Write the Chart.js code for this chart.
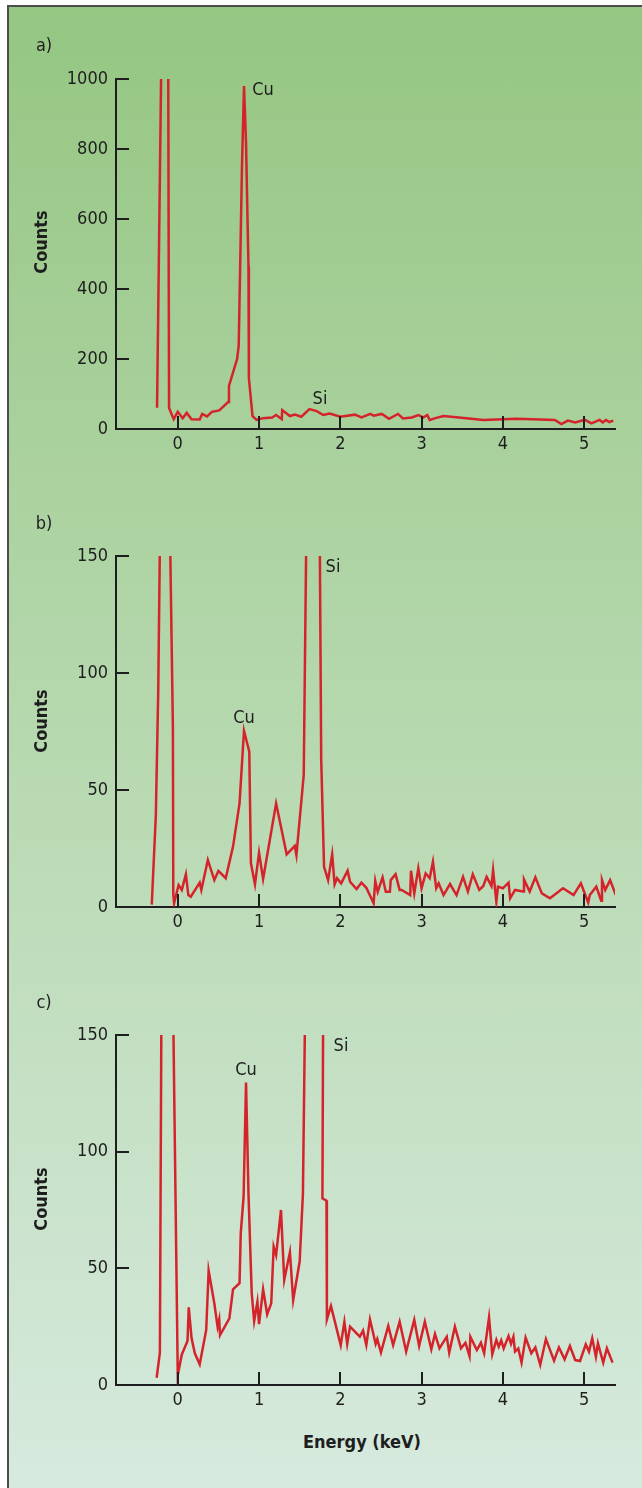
<!DOCTYPE html>
<html>
<head>
<meta charset="utf-8">
<script src="https://cdn.jsdelivr.net/npm/chart.js@4.4.0/dist/chart.umd.min.js"></script>
<style>
  body { margin: 0; width: 642px; height: 1488px; background: #fff; position: relative; overflow: hidden;
         font-family: 'Liberation Sans Narrow', 'DejaVu Sans Condensed', sans-serif; color: #1e1e1e; }
  #frame { position: absolute; left: 7px; top: 5px; width: 660px; height: 1500px;
           border-left: 2px solid #4d4d4d; border-top: 2px solid #4d4d4d;
           background: linear-gradient(to bottom, #95c682 0%, #b6d8ae 48%, #d7eadf 100%); }
  canvas { position: absolute; left: 0; }
  .txt { position: absolute; font-size: 18px; line-height: 18px; white-space: nowrap; transform: translate(-50%, -50%); }
  .bold { font-weight: bold; }
  .rot { transform: translate(-50%, -50%) rotate(-90deg); }
</style>
</head>
<body>
<div id="frame"></div>
<canvas id="chartA" width="642" height="470" style="top:0px"></canvas>
<canvas id="chartB" width="642" height="480" style="top:470px"></canvas>
<canvas id="chartC" width="642" height="480" style="top:950px"></canvas>

<div class="txt" style="left:44px;top:45px">a)</div>
<div class="txt" style="left:44px;top:523px">b)</div>
<div class="txt" style="left:44px;top:1002px">c)</div>

<div class="txt bold rot" style="left:41px;top:242px">Counts</div>
<div class="txt bold rot" style="left:41px;top:721px">Counts</div>
<div class="txt bold rot" style="left:41px;top:1199px">Counts</div>

<div class="txt" style="left:263px;top:89px">Cu</div>
<div class="txt" style="left:320px;top:398px">Si</div>
<div class="txt" style="left:244px;top:717px">Cu</div>
<div class="txt" style="left:333px;top:566px">Si</div>
<div class="txt" style="left:246px;top:1069px">Cu</div>
<div class="txt" style="left:341px;top:1045px">Si</div>

<div class="txt bold" style="left:362px;top:1442px">Energy (keV)</div>

<script>
// shared x axis
const xTicks = [0, 1, 2, 3, 4, 5];
const xMin = -0.76;
const xMax = 5.38;

// panel a)
const yTicksA = [0, 200, 400, 600, 800, 1000];
const energyA = [-0.255, -0.2, -0.118, -0.107, -0.05, 0.0, 0.06, 0.11, 0.17, 0.27, 0.30, 0.36, 0.42, 0.51,
  0.62, 0.63, 0.73, 0.75, 0.79, 0.815, 0.84, 0.87, 0.875, 0.92, 0.97, 1.05, 1.16, 1.21, 1.28, 1.285, 1.38,
  1.44, 1.52, 1.62, 1.71, 1.79, 1.87, 2.0, 2.18, 2.26, 2.37, 2.41, 2.51, 2.60, 2.71, 2.77, 2.88, 2.96, 3.02,
  3.07, 3.10, 3.17, 3.27, 3.55, 3.76, 4.17, 4.64, 4.72, 4.80, 4.89, 5.01, 5.09, 5.19, 5.23, 5.27, 5.31, 5.36];
const countsA = [61, 1100, 1100, 60, 28, 49, 31, 46, 28, 27, 43, 36, 49, 53,
  77, 123, 200, 238, 749, 980, 816, 464, 145, 37, 26, 31, 33, 40, 28, 54, 37,
  41, 35, 57, 51, 40, 44, 35, 41, 33, 43, 38, 43, 29, 43, 30, 33, 40, 33,
  40, 26, 31, 37, 31, 26, 29, 26, 14, 24, 19, 26, 16, 26, 19, 26, 20, 24];

// panel b)
const yTicksB = [0, 50, 100, 150];
const energyB = [-0.32, -0.27, -0.24, -0.215, -0.10, -0.06, -0.055, -0.045, 0.01, 0.05, 0.10, 0.13, 0.16,
  0.27, 0.29, 0.37, 0.45, 0.50, 0.59, 0.68, 0.76, 0.815, 0.88, 0.90, 0.95, 1.00, 1.05, 1.21, 1.34, 1.44,
  1.46, 1.55, 1.585, 1.745, 1.765, 1.80, 1.85, 1.90, 1.93, 1.96, 2.01, 2.09, 2.12, 2.20, 2.26, 2.32, 2.41,
  2.43, 2.46, 2.52, 2.56, 2.61, 2.62, 2.68, 2.73, 2.755, 2.86, 2.87, 2.91, 2.96, 3.00, 3.05, 3.10, 3.14,
  3.18, 3.21, 3.27, 3.35, 3.43, 3.51, 3.57, 3.63, 3.71, 3.76, 3.80, 3.86, 3.88, 3.92, 3.94, 4.00, 4.07,
  4.09, 4.15, 4.25, 4.26, 4.33, 4.40, 4.48, 4.58, 4.74, 4.87, 4.96, 5.05, 5.07, 5.15, 5.21, 5.22, 5.26,
  5.32, 5.39];
const countsB = [1, 39, 93, 170, 170, 77, 5.4, 1.6, 9.4, 7.3, 14, 5.1, 4.4,
  10.4, 7.3, 20.1, 11.5, 15.4, 12.3, 25.8, 44.3, 75.3, 66.4, 18.7, 9.7, 23.2, 12, 44.3, 22.5, 26.1,
  22.2, 56.4, 170, 170, 63, 17.2, 11.5, 22.5, 9.7, 12.3, 10.1, 15.5, 10.8, 7.7, 10.4, 8.2, 1.6,
  11.2, 6.5, 12.7, 6.5, 6.5, 11.5, 14, 7.3, 7.3, 5.1, 15.5, 5.8, 16.5, 8, 14.4, 12.3, 19.4,
  8, 10.1, 5.1, 9.8, 5.1, 12.9, 6.6, 14, 7.3, 9, 12.9, 9, 15.8, 2.3, 8.7, 8, 10.4,
  3.7, 7.3, 6.6, 11.8, 6.6, 12.7, 5.8, 3.7, 8, 5.1, 10.1, 1.9, 5.1, 8.7, 2.7, 11.5, 7.3,
  11.5, 5.1];

// panel c)
const yTicksC = [0, 50, 100, 150];
const energyC = [-0.26, -0.22, -0.2, -0.06, 0.0, 0.05, 0.12, 0.135, 0.17, 0.21, 0.27, 0.35, 0.38, 0.45,
  0.49, 0.51, 0.52, 0.635, 0.68, 0.76, 0.775, 0.81, 0.84, 0.87, 0.91, 0.94, 0.98, 1.00, 1.05, 1.10, 1.15,
  1.18, 1.21, 1.27, 1.31, 1.38, 1.42, 1.50, 1.54, 1.57, 1.79, 1.78, 1.83, 1.835, 1.885, 2.005, 2.05, 2.085,
  2.12, 2.24, 2.28, 2.32, 2.365, 2.435, 2.455, 2.50, 2.59, 2.65, 2.73, 2.81, 2.91, 2.97, 3.04, 3.12, 3.165,
  3.22, 3.31, 3.34, 3.41, 3.485, 3.54, 3.59, 3.60, 3.68, 3.73, 3.77, 3.83, 3.87, 3.92, 3.95, 3.98, 4.01,
  4.07, 4.10, 4.13, 4.15, 4.19, 4.23, 4.28, 4.35, 4.40, 4.46, 4.53, 4.63, 4.69, 4.76, 4.825, 4.89, 4.95,
  5.02, 5.06, 5.10, 5.145, 5.17, 5.235, 5.28, 5.35];
const countsC = [3.1, 13.9, 170, 170, 4.3, 13.1, 18.9, 33.3, 20, 13.6, 8.9, 23.6, 49, 35,
  25, 28.1, 21.4, 28.6, 41, 43.6, 65, 80.7, 129.6, 82.1, 39.3, 27.4, 35.7, 26.1, 41, 30.3, 35,
  59.3, 55.7, 75, 45, 56.9, 36.4, 52.9, 82, 170, 170, 80, 79, 28.1, 33.9, 17.1, 27.1, 17.6,
  25, 20.7, 23.3, 17.1, 28.1, 17.6, 19.7, 13.9, 25.3, 17.1, 27.1, 14.3, 27.9, 16.7, 27.1, 15.3, 21.9,
  15.7, 20.7, 13.9, 25, 15.7, 18.1, 12.4, 20.7, 15, 18.1, 13.6, 28.9, 13.1, 19.3, 16.4, 19.1, 15.7,
  21, 17.6, 20.7, 14.3, 15.7, 9.6, 20.3, 13.6, 16.1, 8.6, 19.7, 10.4, 16.1, 11, 16.7, 10.7, 10.3,
  17.4, 14.3, 20, 12.1, 17.9, 9.6, 15.7, 9.6];

const lineColor = '#d5232b';
const axisColor = '#1e1e1e';

Chart.defaults.font.family = "'Liberation Sans Narrow', 'DejaVu Sans Condensed', sans-serif";
Chart.defaults.font.size = 18;
Chart.defaults.color = axisColor;

// tick marks point into the plot, so draw them ourselves from the scales
const innerTicks = {
  id: 'innerTicks',
  afterDraw(chart) {
    const { ctx, chartArea, scales } = chart;
    ctx.save();
    ctx.strokeStyle = axisColor;
    ctx.lineWidth = 2;
    ctx.beginPath();
    scales.x.ticks.forEach(t => {
      const px = Math.round(scales.x.getPixelForValue(t.value));
      ctx.moveTo(px, chartArea.bottom);
      ctx.lineTo(px, chartArea.bottom - 13);
    });
    scales.y.ticks.forEach(t => {
      const py = Math.round(scales.y.getPixelForValue(t.value));
      ctx.moveTo(chartArea.left, py);
      ctx.lineTo(chartArea.left + 13, py);
    });
    ctx.stroke();
    ctx.restore();
  }
};

function makePanel(id, energy, counts, yTicks, padTop, padBottom) {
  const points = energy.map((e, i) => ({ x: e, y: counts[i] }));
  return new Chart(document.getElementById(id), {
    type: 'line',
    data: {
      datasets: [{
        data: points,
        borderColor: lineColor,
        borderWidth: 2.5,
        pointRadius: 0,
        tension: 0,
        clip: 0
      }]
    },
    options: {
      responsive: false,
      animation: false,
      devicePixelRatio: 1,
      layout: { padding: { left: 0, right: 27, top: padTop, bottom: padBottom } },
      plugins: { legend: { display: false }, tooltip: { enabled: false } },
      scales: {
        x: {
          type: 'linear',
          min: xMin,
          max: xMax,
          afterBuildTicks: s => { s.ticks = xTicks.map(v => ({ value: v })); },
          afterFit: s => { s.height = 30; },
          grid: { display: false, drawTicks: false },
          border: { display: true, color: axisColor, width: 2 },
          ticks: { padding: 5, autoSkip: false, maxRotation: 0, callback: v => String(v) }
        },
        y: {
          min: yTicks[0],
          max: yTicks[yTicks.length - 1],
          afterBuildTicks: s => { s.ticks = yTicks.map(v => ({ value: v })); },
          afterFit: s => { s.width = 116; },
          grid: { display: false, drawTicks: false },
          border: { display: true, color: axisColor, width: 2 },
          ticks: { padding: 8, autoSkip: false, callback: v => String(v) }
        }
      }
    },
    plugins: [innerTicks]
  });
}

makePanel('chartA', energyA, countsA, yTicksA, 79, 11);
makePanel('chartB', energyB, countsB, yTicksB, 86, 13);
makePanel('chartC', energyC, countsC, yTicksC, 85, 15);
</script>
</body>
</html>
